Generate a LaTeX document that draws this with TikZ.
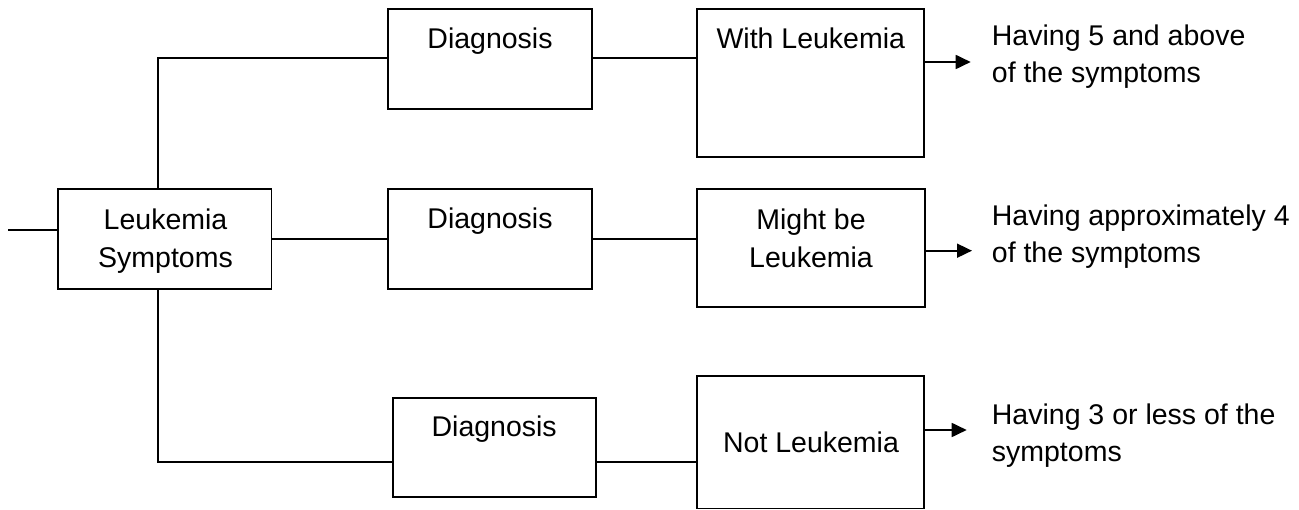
\documentclass[tikz,border=0pt]{standalone}
\usepackage{fontspec}
\setmainfont{Liberation Sans}
\usetikzlibrary{arrows.meta}
\begin{document}
\begin{tikzpicture}[x=1pt,y=-1pt,
  box/.style={draw,line width=1.8pt,inner sep=0pt},
  lbl/.style={inner sep=0pt,font=\fontsize{28.5}{38}\selectfont,align=center},
  note/.style={inner sep=0pt,font=\fontsize{28.5}{37}\selectfont,align=left,anchor=north west},
  wire/.style={line width=1.8pt},
  arr/.style={line width=1.8pt,-{Triangle[length=15pt,width=14pt]}}]
\useasboundingbox (0,0) rectangle (1299,510);

% boxes
\node[box,minimum width=213.5pt,minimum height=99.4pt] (leuk) at (164.7,239) {};
\node[box,minimum width=204pt,minimum height=99.4pt] (d1) at (489.7,59) {};
\node[box,minimum width=204pt,minimum height=99.4pt] (d2) at (489.7,239) {};
\node[box,minimum width=203.3pt,minimum height=99.6pt] (d3) at (494.3,447.5) {};
\node[box,minimum width=227pt,minimum height=148pt] (w1) at (810.8,83.3) {};
\node[box,minimum width=228pt,minimum height=118pt] (mb) at (811,248.3) {};
\node[box,minimum width=227.6pt,minimum height=132.5pt] (nl) at (810.5,442.3) {};

% box texts
\node[lbl,anchor=north] (tleuk) at (165.5,208.3) {Leukemia\\Symptoms};
\node[lbl,anchor=base] (td1) at (490,49) {Diagnosis};
\node[lbl,anchor=base] (td2) at (490,229) {Diagnosis};
\node[lbl,anchor=base] (td3) at (494.2,436.5) {Diagnosis};
\node[lbl,anchor=base] (tw1) at (810.8,48.5) {With Leukemia};
\node[lbl,anchor=north] (tmb) at (811,209) {Might be\\Leukemia};
\node[lbl,anchor=base] (tnl) at (811,453) {Not Leukemia};

% side notes
\node[note] (n1) at (991.7,25) {Having 5 and above\\of the symptoms};
\node[note] (n2) at (991.7,205) {Having approximately 4\\of the symptoms};
\node[note] (n3) at (991.7,403.3) {Having 3 or less of the\\symptoms};

% helper coordinates
\coordinate (in) at (8,230);
\coordinate (jx) at (157.7,0);
\coordinate (t1) at (970.7,62);
\coordinate (t2) at (972,250.7);
\coordinate (t3) at (966.7,430);

% connectors
\draw[wire] (in) -- (in -| leuk.west);
\draw[wire] (jx |- leuk.north) |- ([yshift=1pt]d1.west);
\draw[wire] (leuk.east) -- (d2.west);
\draw[wire] (jx |- leuk.south) |- ([yshift=-14.5pt]d3.west);
\draw[wire] ([yshift=1pt]d1.east) -- ([yshift=1pt]d1.east -| w1.west);
\draw[wire] (d2.east) -- (d2.east -| mb.west);
\draw[wire] ([yshift=-14.5pt]d3.east) -- ([yshift=-14.5pt]d3.east -| nl.west);

% outcome arrows
\draw[arr] (t1 -| w1.east) -- (t1);
\draw[arr] (t2 -| mb.east) -- (t2);
\draw[arr] (t3 -| nl.east) -- (t3);
\end{tikzpicture}
\end{document}
